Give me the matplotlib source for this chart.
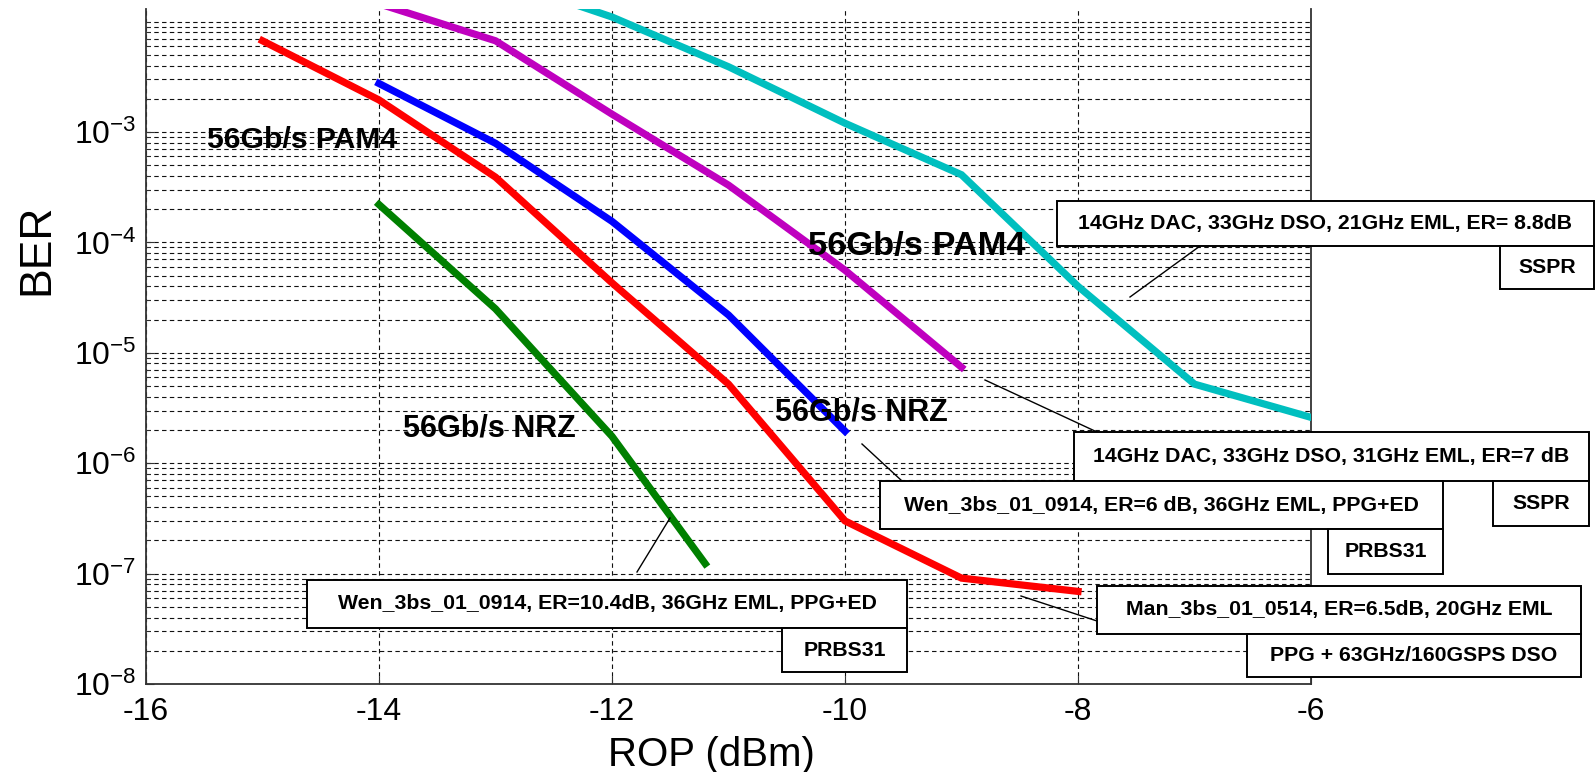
import numpy as np
import matplotlib
matplotlib.use('Agg')
import matplotlib.pyplot as plt
from matplotlib.patches import Rectangle
from matplotlib.lines import Line2D
from matplotlib.ticker import FixedLocator, FuncFormatter, NullFormatter

# BER curves (ROP in dBm)
red_x = [-15, -14, -13, -12, -11, -10, -9, -8]
red_y = [6.7e-3, 1.95e-3, 3.9e-4, 4.3e-5, 5.2e-6, 3.0e-7, 9.1e-8, 6.9e-8]

blue_x = [-14, -13, -12, -11, -10]
blue_y = [2.75e-3, 7.9e-4, 1.55e-4, 2.2e-5, 1.95e-6]

green_x = [-14, -13, -12, -11.2]
green_y = [2.2e-4, 2.5e-5, 1.75e-6, 1.23e-7]

magenta_x = [-14, -13, -12, -11, -10, -9]
magenta_y = [1.45e-2, 6.7e-3, 1.45e-3, 3.3e-4, 5.6e-5, 7.4e-6]

cyan_x = [-13, -12, -11, -10, -9, -8, -7, -6]
cyan_y = [2.5e-2, 1.1e-2, 3.9e-3, 1.2e-3, 4.1e-4, 4.0e-5, 5.2e-6, 2.6e-6]

x_ticks = [-16, -14, -12, -10, -8, -6]
y_exps = [-8, -7, -6, -5, -4, -3]

W, H = 1596, 772

plt.rcParams['font.family'] = ['Liberation Sans', 'DejaVu Sans']
plt.rcParams['mathtext.fontset'] = 'custom'
plt.rcParams['mathtext.rm'] = 'Liberation Sans'
plt.rcParams['mathtext.default'] = 'regular'
plt.rcParams['axes.unicode_minus'] = False

BOLD = ['Liberation Sans', 'DejaVu Sans']

fig = plt.figure(figsize=(W / 100, H / 100), dpi=100)
ax = fig.add_axes([146 / W, 1 - 684 / H, (1311 - 146) / W, (684 - 9) / H])

curves = [(red_x, red_y, '#ff0000'),
          (blue_x, blue_y, '#0000ff'),
          (green_x, green_y, '#008000'),
          (magenta_x, magenta_y, '#bf00bf'),
          (cyan_x, cyan_y, '#00bfbf')]
for xs, ys, c in curves:
    ax.plot(xs, ys, color=c, lw=5.2, solid_joinstyle='miter', zorder=3)

ax.set_yscale('log')
ax.set_xlim(-16, -6)
ax.set_ylim(1e-8, 1.3e-2)

ax.set_xticks(x_ticks)
ax.xaxis.set_major_formatter(FuncFormatter(lambda v, p: '%d' % v))
ax.yaxis.set_major_locator(FixedLocator([10.0 ** e for e in y_exps]))
minor = [m * 10.0 ** e for e in range(-8, -2) for m in range(2, 10)] + [1e-2]
ax.yaxis.set_minor_locator(FixedLocator(minor))
ax.yaxis.set_minor_formatter(NullFormatter())
ax.yaxis.set_major_formatter(FuncFormatter(
    lambda v, p: '$10^{%d}$' % int(round(np.log10(v)))))

dash = (0, (4, 3))
ax.grid(True, which='both', axis='y', ls=dash, color='#111111', lw=0.8)
ax.grid(True, which='major', axis='x', ls=dash, color='#111111', lw=0.8)
ax.set_axisbelow(True)

ax.tick_params(which='both', direction='in', colors='#333333',
               labelcolor='black', labelsize=23)
ax.tick_params(which='major', length=6)
ax.tick_params(which='minor', length=3)
ax.tick_params(axis='x', pad=9)
ax.tick_params(axis='y', pad=7)

ax.spines['top'].set_visible(False)
for s in ['left', 'bottom', 'right']:
    ax.spines[s].set_color('#333333')
    ax.spines[s].set_linewidth(1.3)

ax.set_xlabel('ROP (dBm)', fontsize=29)
ax.xaxis.label.set_va('center')
ax.xaxis.set_label_coords(0.485, -0.105)
ax.set_ylabel('BER', fontsize=32)
ax.yaxis.label.set_va('center')
ax.yaxis.set_label_coords(-0.094, 0.644)

# curve group labels
labels = [(-15.48, 8.45e-4, '56Gb/s PAM4', 21.7),
          (-10.32, 9.1e-5, '56Gb/s PAM4', 24.8),
          (-13.79, 2.08e-6, '56Gb/s NRZ', 22),
          (-10.60, 2.85e-6, '56Gb/s NRZ', 22)]
for lx, ly, txt, fs in labels:
    ax.text(lx, ly, txt, fontsize=fs, weight='bold', family=BOLD,
            ha='left', va='center', zorder=4)

# annotation boxes (figure pixels: x0, y0, x1, y1)
boxes = [((1057, 201, 1594, 246), '14GHz DAC, 33GHz DSO, 21GHz EML, ER= 8.8dB'),
         ((1500, 246, 1594, 289), 'SSPR'),
         ((1074, 432, 1589, 481), '14GHz DAC, 33GHz DSO, 31GHz EML, ER=7 dB'),
         ((1493, 481, 1589, 526), 'SSPR'),
         ((880, 481, 1443, 529), 'Wen_3bs_01_0914, ER=6 dB, 36GHz EML, PPG+ED'),
         ((1328, 529, 1443, 574), 'PRBS31'),
         ((1097, 586, 1581, 634), 'Man_3bs_01_0514, ER=6.5dB, 20GHz EML'),
         ((1247, 634, 1581, 677), 'PPG + 63GHz/160GSPS DSO'),
         ((307, 580, 907, 628), 'Wen_3bs_01_0914, ER=10.4dB, 36GHz EML, PPG+ED'),
         ((782, 628, 907, 672), 'PRBS31')]

leaders = [(1200, 246, 1130, 297),
           (985, 380, 1097, 432),
           (862, 444, 902, 481),
           (1021, 596, 1097, 621),
           (670, 518, 637, 572)]

for (x0, y0, x1, y1) in leaders:
    fig.add_artist(Line2D([x0 / W, x1 / W], [1 - y0 / H, 1 - y1 / H],
                          transform=fig.transFigure, color='black', lw=1.0))

for (x0, y0, x1, y1), txt in boxes:
    fig.add_artist(Rectangle((x0 / W, 1 - y1 / H), (x1 - x0) / W, (y1 - y0) / H,
                             transform=fig.transFigure, fc='white',
                             ec='black', lw=1.4, zorder=5))
    fig.text((x0 + x1) / 2 / W, 1 - (y0 + y1) / 2 / H, txt, fontsize=15.3,
             weight='bold', family=BOLD, ha='center', va='center', zorder=6)

fig.savefig('out.png', dpi=100)
